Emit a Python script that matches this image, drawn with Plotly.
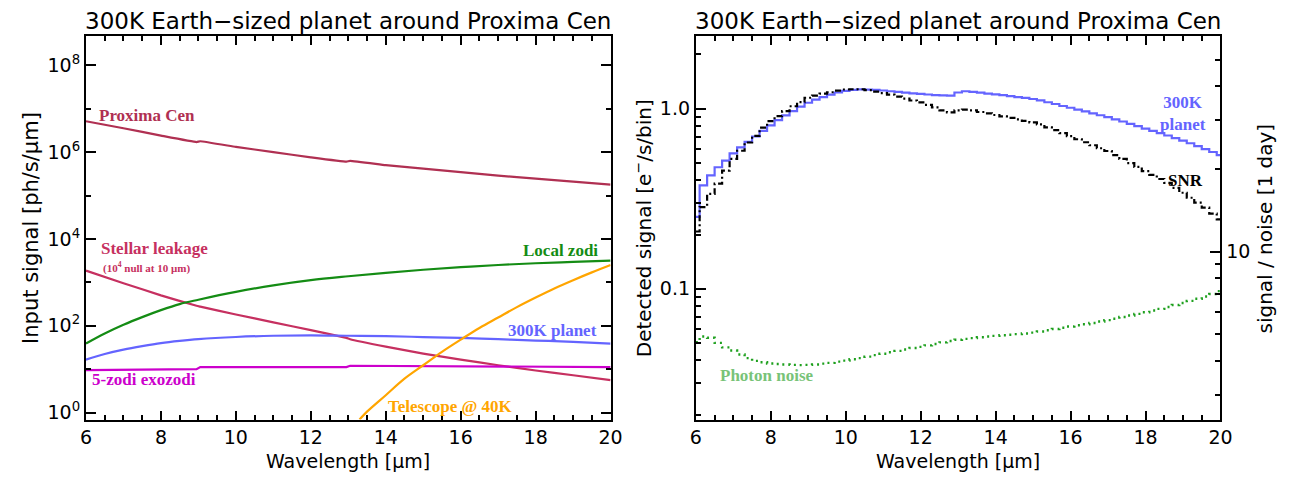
import plotly.graph_objects as go

W, H = 1294, 478
OX, OY = 8, 8  # page margin of the html body

# ---------------- Left panel data (ph/s/um) ----------------
wl_star = [6, 7, 8, 8.95, 9.05, 10, 11, 12, 12.95, 13.05, 14, 15, 16, 17, 18, 19, 20]
proxima = [5.13e6, 3.55e6, 2.40e6, 1.70e6, 1.78e6, 1.32e6, 1.00e6, 7.59e5, 6.03e5,
           6.31e5, 5.01e5, 4.17e5, 3.47e5, 2.88e5, 2.45e5, 2.09e5, 1.78e5]
leakage = [1862, 955, 501, 288, 275, 182, 120, 79.4, 52.5, 49.0, 33.1, 22.9, 16.6,
           12.3, 9.33, 7.24, 5.62]

wl_smooth = [6, 6.5, 7, 7.5, 8, 8.5, 9, 10, 11, 12, 13, 14, 15, 16, 17, 18, 19, 20]
local_zodi = [38.9, 66.1, 105, 158, 229, 316, 398, 603, 851, 1122, 1380, 1660, 1950,
              2239, 2512, 2754, 2951, 3162]
planet_in = [16.6, 22.4, 28.2, 33.9, 39.8, 44.7, 49.0, 55.0, 58.9, 60.3, 58.9, 57.5,
             55.0, 52.5, 49.0, 45.7, 42.7, 38.9]

wl_exo = [6, 8.95, 9.05, 12.95, 13.05, 20]
exozodi = [9.55, 10.0, 11.2, 11.2, 12.0, 11.2]

wl_tel = [13.3, 13.5, 14, 14.5, 15, 15.5, 16, 16.5, 17, 17.5, 18, 18.5, 19, 19.5, 20]
telescope = [0.69, 1.05, 2.51, 6.03, 12.3, 25.1, 47.9, 89.1, 155, 269, 447, 724,
             1122, 1698, 2512]

# ---------------- Right panel data (binned) ----------------
wl_bin = [6.0, 6.2, 6.4, 6.6, 6.8, 7.0, 7.2, 7.4, 7.6, 7.8, 8.0, 8.2, 8.4, 8.6, 8.8,
          9.0, 9.2, 9.4, 9.6, 9.8, 10.0, 10.2, 10.4, 10.6, 10.8, 11.0, 11.2, 11.4,
          11.6, 11.8, 12.0, 12.2, 12.4, 12.6, 12.8, 13.0, 13.2, 13.4, 13.6, 13.8,
          14.0, 14.2, 14.4, 14.6, 14.8, 15.0, 15.2, 15.4, 15.6, 15.8, 16.0, 16.2,
          16.4, 16.6, 16.8, 17.0, 17.2, 17.4, 17.6, 17.8, 18.0, 18.2, 18.4, 18.6,
          18.8, 19.0, 19.2, 19.4, 19.6, 19.8, 20.0]
planet_det = [0.251, 0.375, 0.426, 0.473, 0.515, 0.565, 0.610, 0.655, 0.701, 0.753,
              0.809, 0.865, 0.918, 0.970, 1.026, 1.079, 1.122, 1.159, 1.197, 1.230,
              1.256, 1.271, 1.279, 1.276, 1.271, 1.262, 1.250, 1.239, 1.227, 1.216,
              1.208, 1.199, 1.191, 1.186, 1.183, 1.230, 1.250, 1.239, 1.227, 1.213,
              1.202, 1.189, 1.175, 1.161, 1.148, 1.132, 1.112, 1.086, 1.062, 1.035,
              1.012, 0.989, 0.966, 0.942, 0.920, 0.897, 0.873, 0.849, 0.824, 0.800,
              0.776, 0.753, 0.731, 0.710, 0.687, 0.665, 0.643, 0.619, 0.597, 0.575,
              0.552]
snr = [11.83, 14.52, 16.22, 17.66, 19.72, 21.73, 23.28, 24.95, 26.36, 28.25, 29.85,
       31.12, 32.43, 33.81, 34.99, 36.31, 36.98, 37.58, 38.02, 38.55, 38.90, 38.99,
       38.99, 38.73, 38.19, 37.76, 37.24, 36.64, 36.06, 35.48, 34.91, 34.20, 33.50,
       32.66, 32.14, 32.66, 32.89, 32.66, 32.21, 31.84, 31.41, 31.05, 30.69, 30.27,
       29.92, 29.51, 29.04, 28.31, 27.67, 26.98, 26.30, 25.64, 25.00, 24.38, 23.77,
       23.23, 22.44, 21.73, 20.99, 20.32, 19.63, 19.01, 18.37, 17.78, 17.06, 16.37,
       15.70, 15.07, 14.45, 13.74, 13.09]
photon_noise = [0.0505, 0.0543, 0.0535, 0.0501, 0.0473, 0.0454, 0.0432, 0.0412,
                0.0398, 0.0391, 0.0385, 0.0382, 0.0380, 0.0378, 0.0377, 0.0378,
                0.0380, 0.0384, 0.0388, 0.0394, 0.0399, 0.0406, 0.0412, 0.0420,
                0.0428, 0.0436, 0.0444, 0.0452, 0.0460, 0.0469, 0.0476, 0.0485,
                0.0494, 0.0504, 0.0513, 0.0521, 0.0527, 0.0532, 0.0538, 0.0543,
                0.0548, 0.0552, 0.0556, 0.0560, 0.0565, 0.0571, 0.0579, 0.0589,
                0.0598, 0.0608, 0.0618, 0.0627, 0.0635, 0.0646, 0.0658, 0.0670,
                0.0682, 0.0697, 0.0711, 0.0726, 0.0741, 0.0757, 0.0774, 0.0793,
                0.0813, 0.0834, 0.0857, 0.0881, 0.0906, 0.0935, 0.0970]

# tick definitions
x_major = [6, 8, 10, 12, 14, 16, 18, 20]
y1_major = [1, 1e2, 1e4, 1e6, 1e8]
y1_labels = ["10<sup>0</sup>", "10<sup>2</sup>", "10<sup>4</sup>", "10<sup>6</sup>", "10<sup>8</sup>"]
y1_minor = [10, 1e3, 1e5, 1e7]
y2_major = [0.1, 1.0]
y2_labels = ["0.1", "1.0"]
y2_minor = [0.02, 0.03, 0.04, 0.05, 0.06, 0.07, 0.08, 0.09,
            0.2, 0.3, 0.4, 0.5, 0.6, 0.7, 0.8, 0.9, 2]
y3_major = [10]
y3_labels = ["10"]
y3_minor = [3, 4, 5, 6, 7, 8, 9, 20, 30, 40, 50]

C_PROX = "rgb(176,48,82)"
C_LEAK = "rgb(198,48,96)"
C_ZODI = "rgb(20,140,20)"
C_PLAN = "rgb(100,100,255)"
C_EXO = "rgb(204,0,204)"
C_TEL = "rgb(255,165,0)"

fig = go.Figure()
lw = 2.2
fig.add_trace(go.Scatter(x=wl_star, y=proxima, mode="lines", line=dict(color=C_PROX, width=lw, shape="spline", smoothing=0.3), xaxis="x", yaxis="y"))
fig.add_trace(go.Scatter(x=wl_star, y=leakage, mode="lines", line=dict(color=C_LEAK, width=lw, shape="spline", smoothing=0.3), xaxis="x", yaxis="y"))
fig.add_trace(go.Scatter(x=wl_smooth, y=local_zodi, mode="lines", line=dict(color=C_ZODI, width=lw, shape="spline"), xaxis="x", yaxis="y"))
fig.add_trace(go.Scatter(x=wl_smooth, y=planet_in, mode="lines", line=dict(color=C_PLAN, width=lw, shape="spline"), xaxis="x", yaxis="y"))
fig.add_trace(go.Scatter(x=wl_exo, y=exozodi, mode="lines", line=dict(color=C_EXO, width=lw), xaxis="x", yaxis="y"))
fig.add_trace(go.Scatter(x=wl_tel, y=telescope, mode="lines", line=dict(color=C_TEL, width=lw, shape="spline"), xaxis="x", yaxis="y"))

fig.add_trace(go.Scatter(x=wl_bin, y=photon_noise, mode="lines", line=dict(color="rgb(30,160,30)", width=2.4, dash="2px,4px", shape="hvh"), xaxis="x2", yaxis="y2"))
fig.add_trace(go.Scatter(x=wl_bin, y=planet_det, mode="lines", line=dict(color=C_PLAN, width=2.2, shape="hvh"), xaxis="x2", yaxis="y2"))
fig.add_trace(go.Scatter(x=wl_bin, y=snr, mode="lines", line=dict(color="black", width=2.2, dash="6px,3px,2px,3px", shape="hvh"), xaxis="x2", yaxis="y3"))

FONT = "DejaVu Sans"
tickfont = dict(family=FONT, size=19, color="black")

def fx(x):
    return (x - OX) / W

def fy(y):
    return 1 - (y - OY) / H

y_dom = [fy(423), fy(36)]
xd1 = [fx(81), fx(613)]
xd2 = [fx(699.5), fx(1231.5)]

def xaxis(domain, anchor):
    return dict(domain=domain, anchor=anchor, range=[6, 20], tickmode="array", tickvals=x_major,
                ticks="inside", ticklen=9, tickwidth=1.5, tickcolor="black",
                minor=dict(tick0=6, dtick=0.5, ticks="inside", ticklen=5, tickwidth=1.5, tickcolor="black"),
                showline=True, linecolor="black", linewidth=2, mirror="ticks",
                showgrid=False, zeroline=False, tickfont=tickfont)

fig.update_layout(
    width=W, height=H, margin=dict(l=0, r=0, t=0, b=0),
    paper_bgcolor="white", plot_bgcolor="white", showlegend=False,
    xaxis=xaxis(xd1, "y"),
    xaxis2=xaxis(xd2, "y2"),
    yaxis=dict(domain=y_dom, anchor="x", type="log", range=[-0.16, 8.68],
               tickmode="array", tickvals=y1_major, ticktext=y1_labels,
               ticks="inside", ticklen=10, tickwidth=1.5, tickcolor="black",
               minor=dict(tickmode="array", tickvals=y1_minor, ticks="inside", ticklen=5, tickwidth=1.5, tickcolor="black"),
               showline=True, linecolor="black", linewidth=2, mirror="ticks",
               showgrid=False, zeroline=False, tickfont=tickfont),
    yaxis2=dict(domain=y_dom, anchor="x2", type="log", range=[-1.726, 0.405],
                tickmode="array", tickvals=y2_major, ticktext=y2_labels,
                ticks="inside", ticklen=10, tickwidth=1.5, tickcolor="black",
                minor=dict(tickmode="array", tickvals=y2_minor, ticks="inside", ticklen=5, tickwidth=1.5, tickcolor="black"),
                showline=True, linecolor="black", linewidth=2, mirror=False,
                showgrid=False, zeroline=False, tickfont=tickfont),
    yaxis3=dict(domain=y_dom, anchor="x2", overlaying="y2", side="right", type="log",
                range=[0.3884, 1.7856],
                tickmode="array", tickvals=y3_major, ticktext=y3_labels,
                ticks="inside", ticklen=10, tickwidth=1.5, tickcolor="black",
                minor=dict(tickmode="array", tickvals=y3_minor, ticks="inside", ticklen=5, tickwidth=1.5, tickcolor="black"),
                showline=True, linecolor="black", linewidth=2,
                showgrid=False, zeroline=False, tickfont=tickfont),
)

anns = []
def add(text, x, y, size, color, family="Liberation Serif", angle=0, bold=True):
    t = f"<b>{text}</b>" if bold else text
    anns.append(dict(text=t, x=fx(x), y=fy(y), xref="paper", yref="paper", showarrow=False,
                     xanchor="center", yanchor="middle", textangle=angle,
                     font=dict(family=family, size=size, color=color)))

title = "300K Earth\u2212sized planet around Proxima Cen"
add(title, 347, 21, 23, "black", FONT, bold=False)
add(title, 965, 21, 23, "black", FONT, bold=False)
add("Wavelength [\u03bcm]", 347, 465, 19, "black", FONT, bold=False)
add("Wavelength [\u03bcm]", 965, 465, 19, "black", FONT, bold=False)
add("Input signal [ph/s/\u03bcm]", 25, 230, 21, "black", FONT, angle=-90, bold=False)
add("Detected signal [e<sup>\u2212</sup>/s/bin]", 646, 230, 20, "black", FONT, angle=-90, bold=False)
add("signal / noise [1 day]", 1277, 230, 20, "black", FONT, angle=-90, bold=False)

add("Proxima Cen", 143, 116, 17, C_PROX)
add("Stellar leakage", 150, 251, 17, C_LEAK)
add("(10<sup>4</sup> null at 10 \u03bcm)", 142, 270, 11, C_LEAK)
add("Local zodi", 562, 253, 17, C_ZODI)
add("300K planet", 554, 333, 17, C_PLAN)
add("5-zodi exozodi", 140, 383, 17, C_EXO)
add("Telescope @ 40K", 451, 410, 17, C_TEL)
add("300K<br>planet", 1193, 114, 17, C_PLAN)
add("SNR", 1196, 182, 17, "black")
add("Photon noise", 771, 379, 17, "rgb(120,195,120)")

fig.update_layout(annotations=anns)
fig.write_html("out.html")
